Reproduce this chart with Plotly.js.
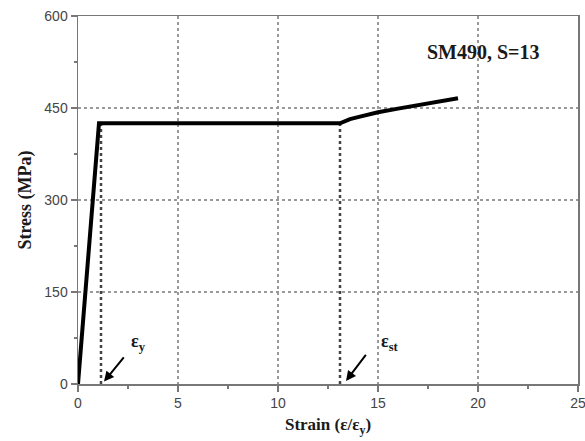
<!DOCTYPE html>
<html>
<head>
<meta charset="utf-8">
<script src="https://cdn.plot.ly/plotly-3.0.1.min.js"></script>
<style>html,body{margin:0;padding:0;background:#fff;}#chart{width:585px;height:441px;}</style>
</head>
<body>
<div id="chart"></div>
<script>
// Stress-strain curve (strain normalised by yield strain)
const strain = [0, 1.05, 13.1, 13.6, 14.1, 15, 16, 17, 18, 19];
const stress = [0, 425, 425, 432, 436, 443, 449, 455, 461, 466];

// Marker lines at yield strain and strain-hardening onset
const epsY = 1.15;
const epsSt = 13.1;
const plateau = 425;

const xTicks = [0, 5, 10, 15, 20, 25];
const yTicks = [0, 150, 300, 450, 600];

const traces = [
  {x: [epsY, epsY], y: [0, plateau], mode: 'lines', line: {color: '#444', width: 2.5, dash: 'dot'}, hoverinfo: 'skip', cliponaxis: false},
  {x: [epsSt, epsSt], y: [0, plateau], mode: 'lines', line: {color: '#444', width: 2.5, dash: 'dot'}, hoverinfo: 'skip', cliponaxis: false},
  {x: strain, y: stress, mode: 'lines', line: {color: '#000', width: 4, shape: 'linear'}, cliponaxis: false}
];

const serif = 'Liberation Serif, Times New Roman, serif';
const sans = 'Liberation Sans, Arial, sans-serif';

const layout = {
  width: 585, height: 441,
  margin: {l: 78, r: 7, t: 16, b: 57},
  paper_bgcolor: '#fff', plot_bgcolor: '#fff',
  showlegend: false,
  xaxis: {
    range: [0, 25], tickvals: xTicks, ticktext: xTicks.map(String),
    ticklabeloverflow: 'allow',
    showgrid: true, gridcolor: '#999', griddash: 'dot', gridwidth: 1.2,
    showline: true, linecolor: '#777', linewidth: 1.5, mirror: true,
    ticks: 'outside', ticklen: 6, tickwidth: 1.5, tickcolor: '#777',
    minor: {dtick: 2.5, tick0: 0, ticks: 'outside', ticklen: 3, tickwidth: 1.5, tickcolor: '#777', showgrid: false},
    zeroline: false,
    tickfont: {family: sans, size: 14, color: '#444'},
    title: {text: 'Strain (ε/ε<sub>y</sub>)', font: {family: serif, size: 17, color: '#1a1a1a', weight: 'bold'}, standoff: 8}
  },
  yaxis: {
    range: [0, 600], tickvals: yTicks, ticktext: yTicks.map(String),
    ticklabeloverflow: 'allow',
    showgrid: true, gridcolor: '#999', griddash: 'dot', gridwidth: 1.2,
    showline: true, linecolor: '#777', linewidth: 1.5, mirror: true,
    ticks: 'outside', ticklen: 6, tickwidth: 1.5, tickcolor: '#777',
    minor: {dtick: 75, tick0: 0, ticks: 'outside', ticklen: 3, tickwidth: 1.5, tickcolor: '#777', showgrid: false},
    zeroline: false,
    tickfont: {family: sans, size: 14, color: '#444'},
    title: {text: 'Stress (MPa)', font: {family: serif, size: 18, color: '#1a1a1a', weight: 'bold'}, standoff: 8}
  },
  annotations: [
    {x: 20.25, y: 541, xref: 'x', yref: 'y', text: '<b>SM490, S=13</b>', showarrow: false,
     font: {family: serif, size: 20, color: '#1a1a1a'}},
    {x: 3.0, y: 68, xref: 'x', yref: 'y', text: '<b>ε<sub>y</sub></b>', showarrow: false,
     font: {family: serif, size: 18, color: '#1a1a1a'}},
    {x: 1.3, y: 4, ax: 2.35, ay: 46, xref: 'x', yref: 'y', axref: 'x', ayref: 'y', text: '', showarrow: true,
     arrowhead: 2, arrowsize: 1, arrowwidth: 2, arrowcolor: '#000', standoff: 0},
    {x: 15.6, y: 68, xref: 'x', yref: 'y', text: '<b>ε<sub>st</sub></b>', showarrow: false,
     font: {family: serif, size: 18, color: '#1a1a1a'}},
    {x: 13.4, y: 5, ax: 14.45, ay: 50, xref: 'x', yref: 'y', axref: 'x', ayref: 'y', text: '', showarrow: true,
     arrowhead: 2, arrowsize: 1, arrowwidth: 2, arrowcolor: '#000', standoff: 0}
  ]
};

Plotly.newPlot('chart', traces, layout, {displayModeBar: false, staticPlot: true});
</script>
</body>
</html>
